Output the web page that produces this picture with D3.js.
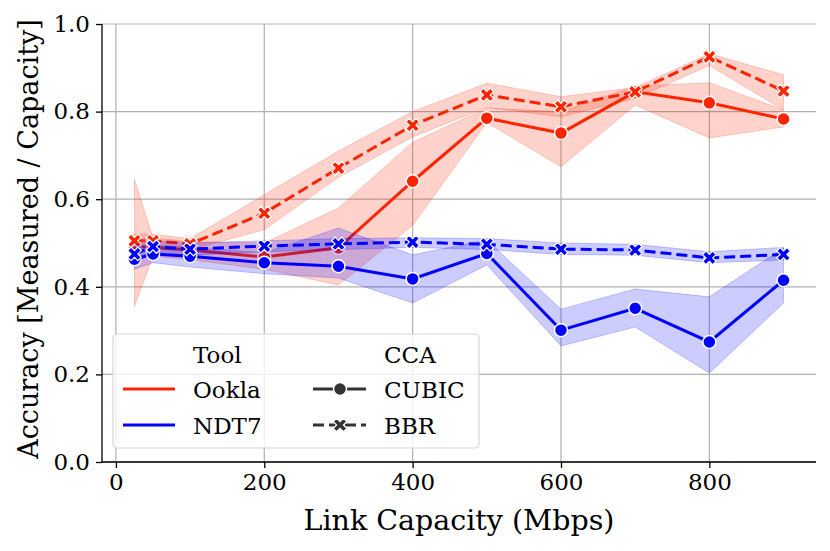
<!DOCTYPE html>
<html>
<head>
<meta charset="utf-8">
<script src="https://cdn.jsdelivr.net/npm/d3@7"></script>
<style>
  body { margin: 0; background: #fff; }
  svg text { font-family: "DejaVu Serif", serif; fill: #000; }
</style>
</head>
<body>
<div id="chart"></div>
<script>
//chart size and margins
const width = 830;
const height = 551;
const margin = { top: 24, right: 14, bottom: 89, left: 102 };
const innerwidth = width - margin.left - margin.right;
const innerheight = height - margin.top - margin.bottom;

//link capacities on the x axis (Mbps)
const capacities = [25, 50, 100, 200, 300, 400, 500, 600, 700, 800, 900];

//ookla with cubic: mean and band
const ooklaCubicMean = [0.493, 0.490, 0.484, 0.468, 0.489, 0.641, 0.785, 0.751, 0.845, 0.820, 0.783];
const ooklaCubicLow = [0.355, 0.470, 0.462, 0.440, 0.404, 0.540, 0.775, 0.674, 0.815, 0.740, 0.765];
const ooklaCubicHigh = [0.645, 0.512, 0.503, 0.500, 0.580, 0.730, 0.808, 0.800, 0.858, 0.866, 0.804];

//ookla with bbr
const ooklaBbrMean = [0.505, 0.505, 0.498, 0.568, 0.671, 0.769, 0.838, 0.811, 0.845, 0.925, 0.847];
const ooklaBbrLow = [0.490, 0.490, 0.485, 0.530, 0.650, 0.742, 0.810, 0.788, 0.830, 0.905, 0.804];
const ooklaBbrHigh = [0.520, 0.520, 0.510, 0.610, 0.710, 0.800, 0.865, 0.834, 0.855, 0.932, 0.884];

//ndt7 with cubic
const ndtCubicMean = [0.463, 0.475, 0.470, 0.455, 0.447, 0.418, 0.476, 0.301, 0.351, 0.274, 0.415];
const ndtCubicLow = [0.440, 0.455, 0.445, 0.430, 0.420, 0.363, 0.450, 0.265, 0.308, 0.203, 0.363];
const ndtCubicHigh = [0.490, 0.495, 0.490, 0.478, 0.534, 0.473, 0.507, 0.349, 0.395, 0.377, 0.489];

//ndt7 with bbr
const ndtBbrMean = [0.475, 0.492, 0.486, 0.493, 0.498, 0.502, 0.497, 0.486, 0.484, 0.466, 0.474];
const ndtBbrLow = [0.455, 0.478, 0.472, 0.480, 0.485, 0.490, 0.485, 0.474, 0.472, 0.455, 0.461];
const ndtBbrHigh = [0.495, 0.505, 0.500, 0.505, 0.510, 0.512, 0.510, 0.500, 0.497, 0.480, 0.490];

//tick labels
const xTicks = [0, 200, 400, 600, 800];
const yTicks = [0.0, 0.2, 0.4, 0.6, 0.8, 1.0];

const tools = ["Ookla", "NDT7"];
const ccas = ["CUBIC", "BBR"];
const toolColor = { "Ookla": "#ff2400", "NDT7": "#0000ff" };

//each series put together from the arrays above
const series = [
    { tool: "Ookla", cca: "CUBIC", mean: ooklaCubicMean, low: ooklaCubicLow, high: ooklaCubicHigh },
    { tool: "Ookla", cca: "BBR", mean: ooklaBbrMean, low: ooklaBbrLow, high: ooklaBbrHigh },
    { tool: "NDT7", cca: "CUBIC", mean: ndtCubicMean, low: ndtCubicLow, high: ndtCubicHigh },
    { tool: "NDT7", cca: "BBR", mean: ndtBbrMean, low: ndtBbrLow, high: ndtBbrHigh }
];

//matplotlib style 5% padding on the x range
const x = d3.scaleLinear()
    .domain([-18.75, 943.75])
    .range([0, innerwidth]);

const y = d3.scaleLinear()
    .domain([0, 1])
    .range([innerheight, 0]);

const svg = d3.select("#chart")
    .append("svg")
    .attr("width", width)
    .attr("height", height)
    .append("g")
    .attr("transform", "translate(" + margin.left + "," + margin.top + ")");

//grid lines
svg.append("g")
    .selectAll("line")
    .data(xTicks)
    .enter()
    .append("line")
    .attr("x1", function (d) { return x(d); })
    .attr("x2", function (d) { return x(d); })
    .attr("y1", 0)
    .attr("y2", innerheight)
    .attr("stroke", "#b0b0b0")
    .attr("stroke-width", 1.2);

svg.append("g")
    .selectAll("line")
    .data(yTicks)
    .enter()
    .append("line")
    .attr("x1", 0)
    .attr("x2", innerwidth)
    .attr("y1", function (d) { return y(d); })
    .attr("y2", function (d) { return y(d); })
    .attr("stroke", "#b0b0b0")
    .attr("stroke-width", 1.2);

const area = d3.area()
    .x(function (d) { return x(d.cap); })
    .y0(function (d) { return y(d.low); })
    .y1(function (d) { return y(d.high); });

const line = d3.line()
    .x(function (d) { return x(d.cap); })
    .y(function (d) { return y(d.mean); });

const xMarker = d3.symbol().type(d3.symbolCross).size(115);

//band, line and markers for every tool / cca pair
series.forEach(function (s) {
    const pts = capacities.map(function (c, i) {
        return { cap: c, mean: s.mean[i], low: s.low[i], high: s.high[i] };
    });
    const color = toolColor[s.tool];

    svg.append("path")
        .datum(pts)
        .attr("d", area)
        .attr("fill", color)
        .attr("fill-opacity", 0.2)
        .attr("stroke", color)
        .attr("stroke-opacity", 0.2)
        .attr("stroke-width", 1);

    svg.append("path")
        .datum(pts)
        .attr("d", line)
        .attr("fill", "none")
        .attr("stroke", color)
        .attr("stroke-width", 3)
        .attr("stroke-dasharray", s.cca === "BBR" ? "11,5" : null);

    if (s.cca === "CUBIC") {
        svg.append("g")
            .selectAll("circle")
            .data(pts)
            .enter()
            .append("circle")
            .attr("cx", function (d) { return x(d.cap); })
            .attr("cy", function (d) { return y(d.mean); })
            .attr("r", 6.5)
            .attr("fill", color)
            .attr("stroke", "#fff")
            .attr("stroke-width", 1.5);
    }
    else {
        svg.append("g")
            .selectAll("path")
            .data(pts)
            .enter()
            .append("path")
            .attr("d", xMarker)
            .attr("transform", function (d) { return "translate(" + x(d.cap) + "," + y(d.mean) + ") rotate(45)"; })
            .attr("fill", color)
            .attr("stroke", "#fff")
            .attr("stroke-width", 1.2);
    }
});

//axes, only left and bottom spines like seaborn despine
const xAxis = svg.append("g")
    .attr("transform", "translate(0," + innerheight + ")")
    .call(d3.axisBottom(x).tickValues(xTicks).tickSize(6).tickPadding(6).tickFormat(d3.format("d")));

const yAxis = svg.append("g")
    .call(d3.axisLeft(y).tickValues(yTicks).tickSize(6).tickPadding(6).tickFormat(d3.format(".1f")));

[xAxis, yAxis].forEach(function (ax) {
    ax.select(".domain").attr("stroke", "#000").attr("stroke-width", 1.3);
    ax.selectAll(".tick line").attr("stroke", "#000").attr("stroke-width", 1.3);
    ax.selectAll("text").style("font-family", "DejaVu Serif").style("font-size", "23px").attr("fill", "#000");
});

//keep the spines as plain lines from end to end
xAxis.select(".domain").attr("d", "M0,0H" + innerwidth);
yAxis.select(".domain").attr("d", "M0," + innerheight + "V0");

//axis titles
svg.append("text")
    .attr("x", innerwidth / 2)
    .attr("y", innerheight + 68)
    .attr("text-anchor", "middle")
    .style("font-size", "28.5px")
    .text("Link Capacity (Mbps)");

svg.append("text")
    .attr("transform", "translate(" + (-64) + "," + (innerheight / 2 - 4) + ") rotate(-90)")
    .attr("text-anchor", "middle")
    .style("font-size", "27px")
    .text("Accuracy [Measured / Capacity]");

//legend with two columns: tool colours and cca styles
const legend = svg.append("g")
    .attr("transform", "translate(11,310)");

legend.append("rect")
    .attr("width", 366)
    .attr("height", 114)
    .attr("rx", 4)
    .attr("fill", "#fff")
    .attr("fill-opacity", 0.8)
    .attr("stroke", "#d6d6d6")
    .attr("stroke-width", 1.2);

legend.append("text").attr("x", 80).attr("y", 29).style("font-size", "23px").text("Tool");
legend.append("text").attr("x", 271).attr("y", 29).style("font-size", "23px").text("CCA");

tools.forEach(function (t, i) {
    const ly = 55 + i * 36;
    legend.append("line")
        .attr("x1", 10).attr("x2", 62)
        .attr("y1", ly).attr("y2", ly)
        .attr("stroke", toolColor[t])
        .attr("stroke-width", 3);
    legend.append("text")
        .attr("x", 80).attr("y", ly + 9)
        .style("font-size", "23px")
        .text(t);
});

ccas.forEach(function (c, i) {
    const ly = 55 + i * 36;
    legend.append("line")
        .attr("x1", 200).attr("x2", 253)
        .attr("y1", ly).attr("y2", ly)
        .attr("stroke", "#333")
        .attr("stroke-width", 3)
        .attr("stroke-dasharray", c === "BBR" ? "11,5" : null);
    if (c === "CUBIC") {
        legend.append("circle")
            .attr("cx", 227).attr("cy", ly)
            .attr("r", 6.5)
            .attr("fill", "#333")
            .attr("stroke", "#fff")
            .attr("stroke-width", 1.5);
    }
    else {
        legend.append("path")
            .attr("d", xMarker)
            .attr("transform", "translate(227," + ly + ") rotate(45)")
            .attr("fill", "#333")
            .attr("stroke", "#fff")
            .attr("stroke-width", 1.2);
    }
    legend.append("text")
        .attr("x", 271).attr("y", ly + 9)
        .style("font-size", "23px")
        .text(c);
});
</script>
</body>
</html>
